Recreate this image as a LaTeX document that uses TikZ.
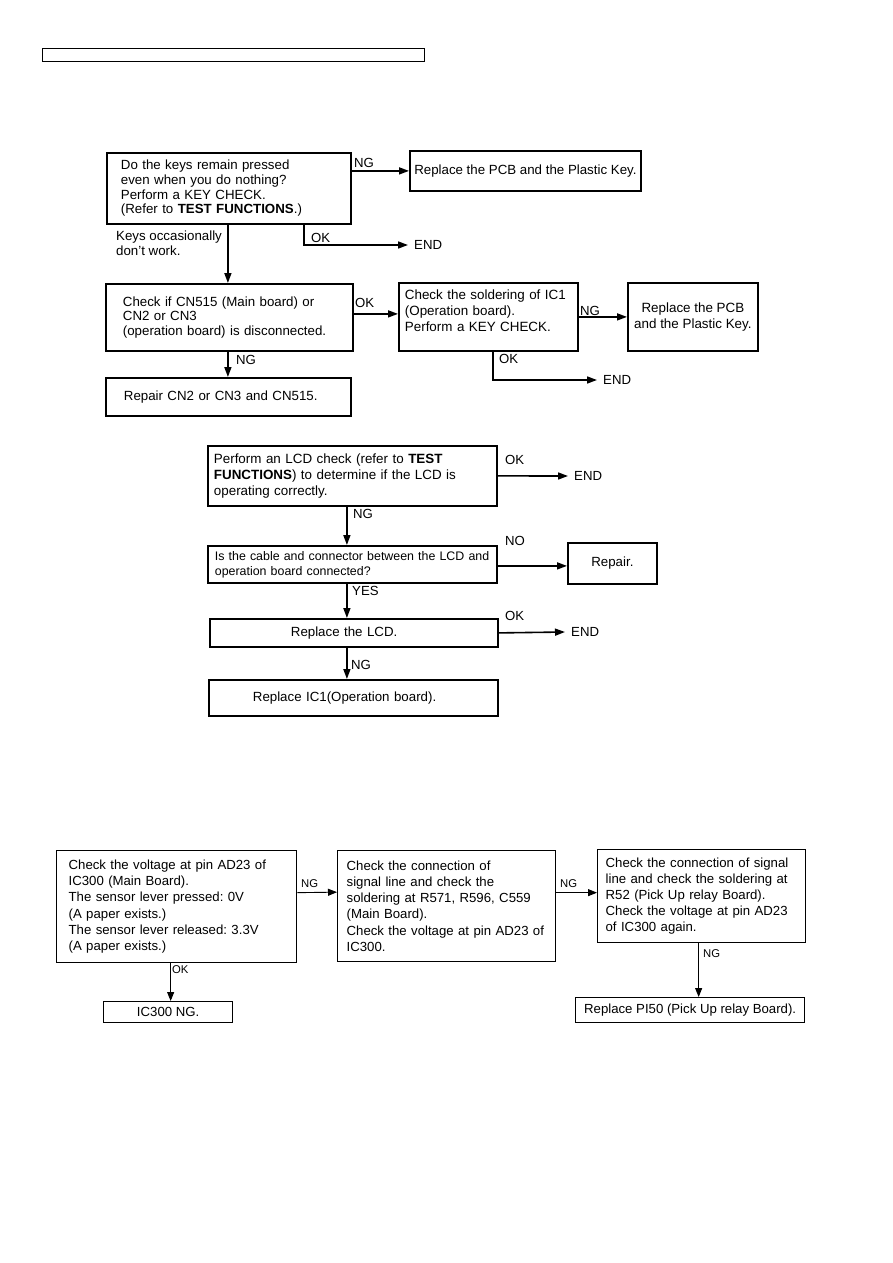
\documentclass[tikz,border=0pt]{standalone}
\usepackage{fontspec}
\setmainfont{Liberation Sans}
\usetikzlibrary{arrows.meta}
\frenchspacing
\newcommand\fntA{\fontsize{13.3}{14.7}\selectfont}
\newcommand\fntB{\fontsize{13.4}{16}\selectfont}
\newcommand\fntG{\fontsize{12.4}{15}\selectfont}
\newcommand\fntC{\fontsize{13.2}{16.2}\selectfont}
\newcommand\fntL{\fontsize{13.2}{14}\selectfont}
\newcommand\fntS{\fontsize{11.3}{13}\selectfont}
\begin{document}
\begin{tikzpicture}[x=1pt,y=-1pt,
  box/.style={draw, line width=1.8pt, inner sep=0pt, anchor=north west, align=left},
  boxc/.style={draw, line width=1.8pt, inner sep=0pt, anchor=north west, align=center},
  sbox/.style={draw, line width=1.3pt, inner sep=0pt, anchor=north west, align=left},
  sboxc/.style={draw, line width=1.3pt, inner sep=0pt, anchor=north west, align=center},
  conn/.style={line width=1.6pt, -{Triangle[length=10pt,width=7pt]}},
  sconn/.style={line width=0.9pt, -{Triangle[length=9pt,width=7pt]}},
  lab/.style={inner sep=0pt, anchor=west, font=\fntL},
  slab/.style={inner sep=0pt, anchor=west, font=\fntS},
  endlab/.style={inner sep=0pt, inner xsep=6pt, anchor=west, font=\fntL}
]
\useasboundingbox[fill=white] (0,0) rectangle (893,1263);

% header
\node[draw, line width=1.4pt, minimum width=382pt, minimum height=13pt, inner sep=0pt, anchor=north west] (hdr) at (42,48) {};

% ---------- flowchart 1 ----------
\node[box, font=\fntA, minimum width=244pt, minimum height=71pt, text width=216pt] (A) at (106,152)
  {Do the keys remain pressed\\even when you do nothing?\\Perform a KEY CHECK.\\(Refer to \textbf{TEST FUNCTIONS}.)};
\node[boxc, font=\fntA, minimum width=231pt, minimum height=40pt] (B1) at (409,150)
  {Replace the PCB and the Plastic Key.};
\node[endlab] (end1) at (408,245) {END};
\node[box, font=\fntA, minimum width=247pt, minimum height=67pt, text width=213pt] (B) at (105,283)
  {Check if CN515 (Main board) or\\CN2 or CN3\\(operation board) is disconnected.};
\node[box, font=\fntA, minimum width=245pt, minimum height=38pt, text width=209pt] (C) at (105,377)
  {Repair CN2 or CN3 and CN515.};
\node[box, font=\fntB, minimum width=179pt, minimum height=68pt, text width=167pt, text depth=45pt] (D) at (398,282)
  {Check the soldering of IC1\\(Operation board).\\Perform a KEY CHECK.};
\node[boxc, font=\fntB, minimum width=130pt, minimum height=68pt] (E) at (627,282)
  {Replace the PCB\\and the Plastic Key.};
\node[endlab] (end2) at (597,380) {END};

\node[lab] (lng1) at (354,162.5) {NG};
\node[lab] (lok1) at (311,237.5) {OK};
\node[inner sep=0pt, anchor=north west, align=left, font=\fntA] (keys) at (116,231) {Keys occasionally\\don't work.};
\node[lab] (lok2) at (355,303) {OK};
\node[lab] (lng2) at (580,311) {NG};
\node[lab] (lok3) at (499,359) {OK};
\node[lab] (lng3) at (236,360) {NG};

\draw[conn] (B1.west -| A.east) -- (B1.west);
\draw[conn] ([xshift=75pt]A.south) |- (end1.west);
\draw[conn] ([xshift=-1pt]A.south) -- ([xshift=-1.5pt]B.north);
\draw[conn] ([yshift=3.5pt]B.east) -- ([yshift=3pt]D.west);
\draw[conn] (D.east) -- (D.east -| E.west);
\draw[conn] ([xshift=4.5pt]D.south) |- (end2.west);
\draw[conn] ([xshift=-1.5pt]B.south) -- ([xshift=-0.5pt]C.north);

% ---------- flowchart 2 ----------
\node[box, font=\fntB, minimum width=289pt, minimum height=60pt, text width=277pt] (F) at (207,445)
  {Perform an LCD check (refer to \textbf{TEST}\\\textbf{FUNCTIONS}) to determine if the LCD is\\operating correctly.};
\node[endlab] (end3) at (568,476) {END};
\node[box, font=\fntG, minimum width=289pt, minimum height=37pt, text width=275pt] (G) at (207,545)
  {Is the cable and connector between the LCD and\\operation board connected?};
\node[boxc, font=\fntA, minimum width=89pt, minimum height=41pt] (Rep) at (567,542) {Repair.};
\node[box, font=\fntA, minimum width=288pt, minimum height=28pt, text width=126pt] (H) at (209,618)
  {Replace the LCD.};
\node[endlab] (end4) at (565,632) {END};
\node[box, font=\fntA, minimum width=289pt, minimum height=36pt, text width=201pt] (I) at (208,679)
  {Replace IC1(Operation board).};

\node[lab] (lok4) at (505,460) {OK};
\node[lab] (lng4) at (353,514) {NG};
\node[lab] (lno) at (505,541) {NO};
\node[lab] (lyes) at (352,591) {YES};
\node[lab] (lok5) at (505,616) {OK};
\node[lab] (lng5) at (351,665) {NG};

\draw[conn] (F.east) -- (end3.west);
\draw[conn] ([xshift=-5.5pt]F.south) -- ([xshift=-5.5pt]G.north);
\draw[conn] ([yshift=-1.5pt]G.east) -- ([yshift=-2.5pt]Rep.west);
\draw[conn] ([xshift=-5.5pt]G.south) -- ([xshift=-7pt]H.north);
\draw[conn] (H.east) -- (end4.west);
\draw[conn] ([xshift=-7pt]H.south) -- ([xshift=-6.5pt]I.north);

% ---------- flowchart 3 ----------
\node[sbox, font=\fntC, minimum width=240pt, minimum height=112pt, text width=216pt] (J) at (56,850)
  {Check the voltage at pin AD23 of\\IC300 (Main Board).\\The sensor lever pressed: 0V\\(A paper exists.)\\The sensor lever released: 3.3V\\(A paper exists.)};
\node[sbox, font=\fntC, minimum width=218pt, minimum height=111pt, text width=200pt] (K) at (337,850)
  {Check the connection of\\signal line and check the\\soldering at R571, R596, C559\\(Main Board).\\Check the voltage at pin AD23 of\\IC300.};
\node[sbox, font=\fntC, minimum width=208pt, minimum height=93pt, text width=192pt] (L) at (597,849)
  {Check the connection of signal\\line and check the soldering at\\R52 (Pick Up relay Board).\\Check the voltage at pin AD23\\of IC300 again.};
\node[sboxc, font=\fntC, minimum width=229pt, minimum height=25pt] (M) at (575,997)
  {Replace PI50 (Pick Up relay Board).};
\node[sboxc, font=\fntC, minimum width=129pt, minimum height=21pt] (N) at (103,1001)
  {IC300 NG.};

\node[slab] (lng6) at (301,884) {NG};
\node[slab] (lng7) at (560,884) {NG};
\node[slab] (lng8) at (703,954) {NG};
\node[slab] (lok6) at (172,970) {OK};

\draw[sconn] ([yshift=14pt]J.east) -- ([yshift=14pt]K.west);
\draw[sconn] ([yshift=13.5pt]K.east) -- ([yshift=3.5pt]L.west);
\draw[sconn] ([xshift=-3pt]L.south) -- ([xshift=-3pt]L.south |- M.north);
\draw[sconn] ([xshift=2.5pt]N.north |- J.south) -- ([xshift=2.5pt]N.north);
\end{tikzpicture}
\end{document}
